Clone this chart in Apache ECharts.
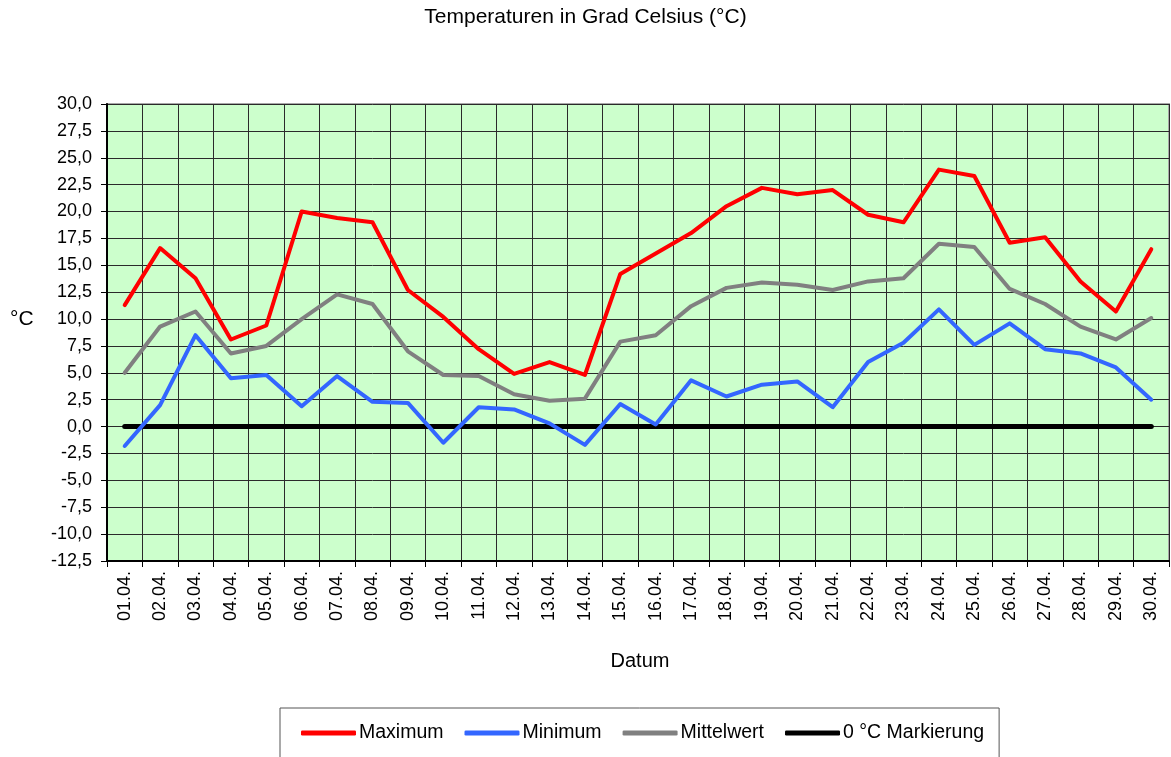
<!DOCTYPE html>
<html>
<head>
<meta charset="utf-8">
<script src="https://cdn.jsdelivr.net/npm/echarts@6/dist/echarts.min.js"></script>
<style>
	html, body { margin: 0; padding: 0; background: #fff; }
	#chart { width: 1171px; height: 757px; }
</style>
</head>
<body>
<div id="chart"></div>
<script>
	// Tage im April
	var days = ['01.04.', '02.04.', '03.04.', '04.04.', '05.04.', '06.04.', '07.04.', '08.04.', '09.04.', '10.04.',
		'11.04.', '12.04.', '13.04.', '14.04.', '15.04.', '16.04.', '17.04.', '18.04.', '19.04.', '20.04.',
		'21.04.', '22.04.', '23.04.', '24.04.', '25.04.', '26.04.', '27.04.', '28.04.', '29.04.', '30.04.'];
	var maxTemp = [11.3, 16.6, 13.8, 8.1, 9.4, 20.0, 19.4, 19.0, 12.7, 10.2,
		7.2, 4.9, 6.0, 4.8, 14.2, 16.1, 18.0, 20.5, 22.2, 21.6,
		22.0, 19.7, 19.0, 23.9, 23.3, 17.1, 17.6, 13.5, 10.7, 16.5];
	var minTemp = [-1.8, 2.0, 8.5, 4.5, 4.8, 1.9, 4.7, 2.3, 2.2, -1.5,
		1.8, 1.6, 0.3, -1.7, 2.1, 0.2, 4.3, 2.8, 3.9, 4.2,
		1.8, 6.0, 7.8, 10.9, 7.6, 9.6, 7.2, 6.8, 5.5, 2.5];
	var meanTemp = [5.0, 9.3, 10.7, 6.8, 7.5, 10.0, 12.3, 11.4, 7.0, 4.8,
		4.7, 3.0, 2.4, 2.6, 7.9, 8.5, 11.2, 12.9, 13.4, 13.2,
		12.7, 13.5, 13.8, 17.0, 16.7, 12.8, 11.4, 9.3, 8.1, 10.1];
	var zeroLine = [0, 0, 0, 0, 0, 0, 0, 0, 0, 0, 0, 0, 0, 0, 0, 0, 0, 0, 0, 0, 0, 0, 0, 0, 0, 0, 0, 0, 0, 0];

	var font = 'Liberation Sans, Arial, sans-serif';

	var lineSeries = function(name, data, color, width) {
		return {
			name: name,
			type: 'line',
			data: data,
			symbol: 'none',
			animation: false,
			lineStyle: { color: color, width: width, cap: 'round', join: 'round' },
			itemStyle: { color: color }
		};
	};

	var myChart = echarts.init(document.getElementById('chart'));
	var option = {
		backgroundColor: '#fff',
		animation: false,
		title: {
			text: 'Temperaturen in Grad Celsius (°C)',
			left: 'center',
			top: 2,
			textStyle: { fontFamily: font, fontSize: 21, fontWeight: 'normal', color: '#000' }
		},
		grid: {
			left: 107,
			right: 2,
			top: 104,
			bottom: 196,
			show: true,
			backgroundColor: '#ccffcc',
			borderColor: '#a8a8a8',
			borderWidth: 2
		},
		legend: {
			left: 280,
			top: 708,
			padding: [15, 15, 30, 21],
			itemGap: 21,
			itemWidth: 55,
			itemHeight: 5,
			icon: 'roundRect',
			borderColor: '#555',
			borderWidth: 1,
			backgroundColor: '#fff',
			textStyle: { fontFamily: font, fontSize: 19.5, color: '#000', padding: [0, 0, 0, -2] },
			data: ['Maximum', 'Minimum', 'Mittelwert', '0 °C Markierung']
		},
		xAxis: {
			type: 'category',
			data: days,
			boundaryGap: true,
			name: 'Datum',
			nameLocation: 'middle',
			nameGap: 90,
			nameTextStyle: { fontFamily: font, fontSize: 20, color: '#000', padding: [0, 0, 0, 4] },
			axisLine: { onZero: false, lineStyle: { color: '#000', width: 2 } },
			axisTick: { show: true, inside: false, length: 6, lineStyle: { color: '#000' } },
			axisLabel: { rotate: 90, margin: 10, fontFamily: font, fontSize: 18, color: '#000' },
			splitLine: { show: true, lineStyle: { color: '#2a2a2a', width: 1 } }
		},
		yAxis: {
			type: 'value',
			min: -12.5,
			max: 30,
			interval: 2.5,
			axisLine: { show: true, lineStyle: { color: '#000', width: 2 } },
			axisTick: { show: true, inside: false, length: 6, lineStyle: { color: '#000' } },
			axisLabel: {
				margin: 15,
				fontFamily: font,
				fontSize: 18,
				color: '#000',
				formatter: function(v) {
					return v.toFixed(1).replace('.', ',');
				}
			},
			splitLine: { show: true, lineStyle: { color: '#2a2a2a', width: 1 } }
		},
		graphic: [{
			type: 'text',
			left: 10,
			top: 309,
			style: { text: '°C', fontFamily: font, fontSize: 21, fill: '#000' }
		}],
		series: [
			lineSeries('0 °C Markierung', zeroLine, '#000000', 5),
			lineSeries('Mittelwert', meanTemp, '#808080', 4),
			lineSeries('Minimum', minTemp, '#3366ff', 4),
			lineSeries('Maximum', maxTemp, '#ff0000', 4)
		]
	};
	myChart.setOption(option);
	window.onresize = function() {
		myChart.resize();
	};
</script>
</body>
</html>
